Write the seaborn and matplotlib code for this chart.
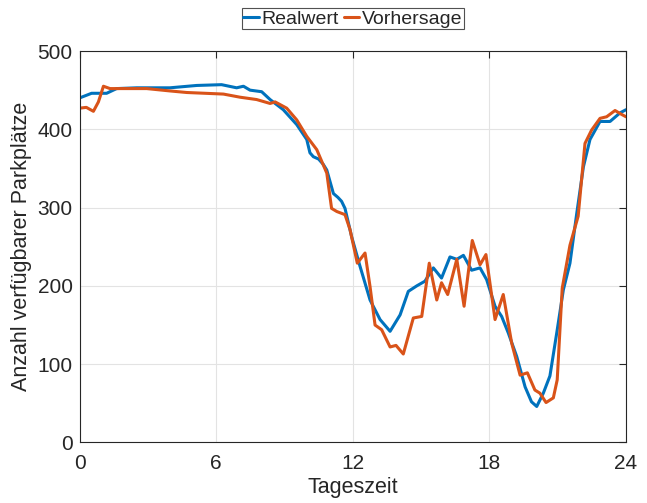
import pandas as pd
import matplotlib
matplotlib.use('Agg')
import matplotlib.pyplot as plt
import seaborn as sns

# Tageszeit (h) und Werte
t_real = [0, 0.53, 1.19, 1.63, 2.51, 3.97, 5.15, 6.24, 6.9, 7.2, 7.49, 8.0, 8.37, 8.95,
          9.54, 9.98, 10.12, 10.27, 10.5, 10.71, 10.86, 11.15, 11.35, 11.51, 11.66, 11.95, 12.32,
          12.76, 13.2, 13.64, 14.08, 14.44, 14.81, 15.17, 15.54, 15.9, 16.27, 16.57,
          16.86, 17.22, 17.59, 17.88, 18.25, 18.54, 18.83, 19.2, 19.57, 19.85, 20.08,
          20.37, 20.66, 20.96, 21.25, 21.54, 21.84, 22.13, 22.42, 22.86, 23.3, 23.74, 24]
v_real = [440, 446, 446, 452, 453, 453, 456, 457, 453, 455, 450, 448, 438, 425,
          406, 387, 370, 365, 362, 355, 348, 318, 313, 308, 299, 263, 225,
          182, 157, 142, 163, 193, 200, 206, 223, 210, 237, 234,
          239, 220, 223, 208, 174, 161, 140, 110, 71, 52, 46,
          63, 85, 140, 195, 229, 293, 352, 387, 410, 410, 421, 425]

t_pred = [0, 0.3, 0.61, 0.83, 1.05, 1.34, 2.95, 3.97, 4.71, 6.32, 7.05, 7.78, 8.37,
          8.59, 9.1, 9.54, 9.98, 10.42, 10.86, 11.07, 11.3, 11.66, 11.88, 12.2, 12.54,
          12.76, 12.98, 13.27, 13.64, 13.9, 14.22, 14.66, 15.03, 15.36, 15.69, 15.9,
          16.17, 16.57, 16.89, 17.25, 17.59, 17.85, 18.25, 18.61, 18.98, 19.35, 19.67,
          20.0, 20.22, 20.49, 20.81, 20.98, 21.2, 21.54, 21.9, 22.2, 22.49, 22.86,
          23.15, 23.52, 23.81, 24]
v_pred = [427, 428, 423, 435, 455, 452, 452, 449, 447, 445, 441, 438, 433,
          435, 427, 412, 391, 374, 344, 299, 295, 291, 272, 229, 242,
          199, 150, 144, 122, 124, 113, 159, 161, 229, 182, 204,
          189, 234, 174, 258, 227, 240, 157, 189, 127, 86, 89,
          67, 63, 51, 57, 80, 197, 252, 289, 382, 399, 414,
          416, 424, 419, 416]

df = pd.concat([
    pd.DataFrame({'Tageszeit': t_real, 'Wert': v_real, 'Reihe': 'Realwert'}),
    pd.DataFrame({'Tageszeit': t_pred, 'Wert': v_pred, 'Reihe': 'Vorhersage'}),
])

sns.set_style('white')
plt.rcParams['font.family'] = ['Liberation Sans', 'DejaVu Sans']

fig = plt.figure(figsize=(6.47, 5.03), dpi=100)
ax = fig.add_axes([0.1229, 0.1203, 0.8446, 0.7783])

sns.lineplot(data=df, x='Tageszeit', y='Wert', hue='Reihe', estimator=None, sort=False,
             palette={'Realwert': '#0072BD', 'Vorhersage': '#D95319'},
             linewidth=2.2, ax=ax)

ax.set_xlim(0, 24)
ax.set_ylim(0, 500)
ax.set_xticks([0, 6, 12, 18, 24])
ax.set_yticks([0, 100, 200, 300, 400, 500])
ax.grid(True, color='#e3e3e3', linewidth=0.8)
ax.set_axisbelow(True)
for s in ax.spines.values():
    s.set_color('#262626')
    s.set_linewidth(0.8)
    s.set_visible(True)
ax.tick_params(direction='in', top=True, right=True, length=5, width=0.8,
               color='#262626', labelsize=15, labelcolor='#262626')
ax.tick_params(axis='x', pad=8)
ax.tick_params(axis='y', pad=5)
ax.set_xlabel('Tageszeit', fontsize=15.5, color='#262626', labelpad=3)
ax.set_ylabel('Anzahl verfügbarer Parkplätze', fontsize=15.5, color='#262626', labelpad=4)

leg = ax.legend(loc='lower center', bbox_to_anchor=(0.5, 1.055), ncol=2, frameon=True,
                fontsize=14, handlelength=0.8, handletextpad=0.12, columnspacing=0.25,
                borderpad=0.1, borderaxespad=0, fancybox=False, title=None)
leg.get_frame().set_edgecolor('#262626')
leg.get_frame().set_linewidth(0.8)

fig.savefig('out.png', dpi=100)
